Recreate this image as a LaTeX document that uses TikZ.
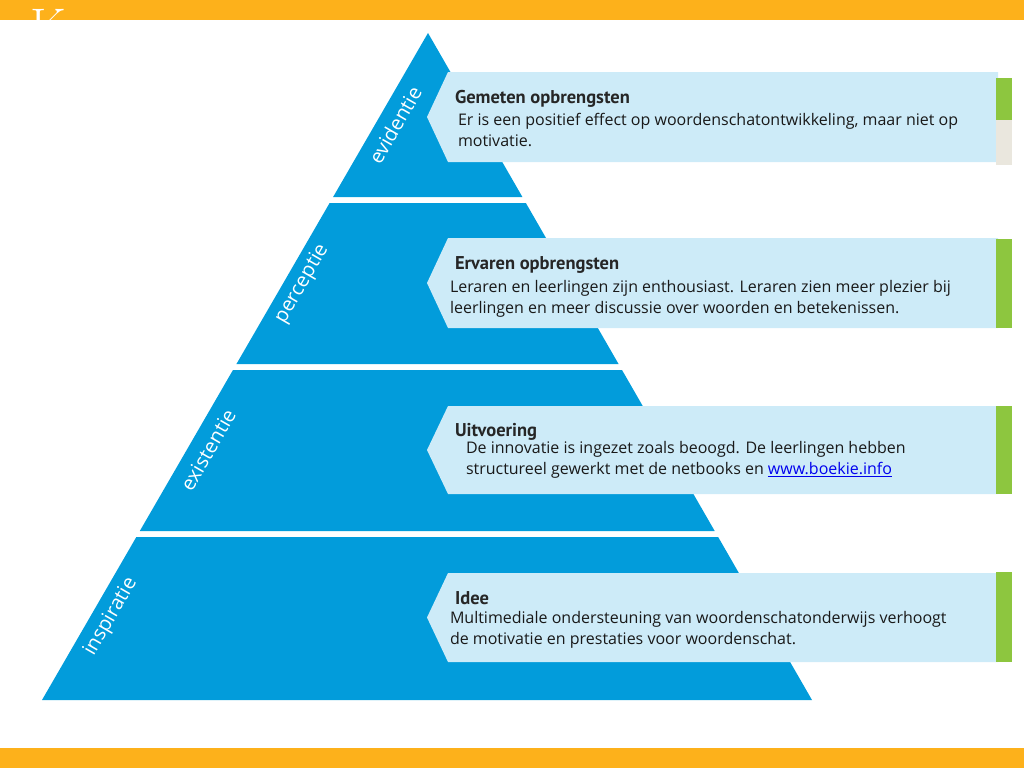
\documentclass[tikz,border=0pt]{standalone}
\usepackage{fontspec}
\setmainfont{Open Sans}
\newfontfamily\titlefont{PT Sans}
\newfontfamily\romanfont{Latin Modern Roman}
\usetikzlibrary{positioning}
\definecolor{barorange}{RGB}{253, 177, 27}
\definecolor{pyrblue}{RGB}{2, 156, 219}
\definecolor{boxblue}{RGB}{205, 235, 248}
\definecolor{markgreen}{RGB}{141, 198, 63}
\definecolor{markbeige}{RGB}{234, 231, 222}
\definecolor{linkblue}{RGB}{0, 0, 238}

\begin{document}
\begin{tikzpicture}[x=1pt, y=-1pt,
    every node/.style={inner sep=0pt, outer sep=0pt},
    layerlabel/.style={white, rotate=60, font=\fontsize{20}{20}\selectfont},
    boxtitle/.style={anchor=base west, font=\titlefont\bfseries\fontsize{18.5}{20}\selectfont, text=black!85},
    boxtext/.style={anchor=north west, align=left, font=\fontsize{16}{21}\selectfont, text=black!90}]

    \useasboundingbox (0,0) rectangle (1024,768);

    % Balken boven en onder
    \fill[barorange] (0,0) rectangle (1024,20);
    \fill[barorange] (0,748) rectangle (1024,768);
    \node[anchor=base west, white, font=\romanfont\fontsize{50}{50}\selectfont] (kop) at (30,44) {K};
    \fill[white] (0,20) rectangle (1024,60);

    % --- PIRAMIDE ---
    \coordinate (top) at (428,33);
    \foreach \ya/\yb/\naam in {33/197/laag1, 203/364/laag2, 370/531/laag3, 537/700/laag4} {
        \pgfmathsetmacro{\xla}{428-0.5787*(\ya-33)}
        \pgfmathsetmacro{\xra}{428+0.5757*(\ya-33)}
        \pgfmathsetmacro{\xlb}{428-0.5787*(\yb-33)}
        \pgfmathsetmacro{\xrb}{428+0.5757*(\yb-33)}
        \fill[pyrblue] (\xla,\ya) -- (\xra,\ya) -- (\xrb,\yb) -- (\xlb,\yb) -- cycle;
    }

    % labels langs de linkerrand
    \node[layerlabel] (evidentie) at (395,125) {evidentie};
    \node[layerlabel] (perceptie) at (302,284) {perceptie};
    \node[layerlabel] (existentie) at (208,450) {existentie};
    \node[layerlabel] (inspiratie) at (111,617) {inspiratie};

    % --- TEKSTVAKKEN ---
    \foreach \yt/\yb in {72/162, 238/328, 406/494, 573/662} {
        \pgfmathsetmacro{\ym}{(\yt+\yb)/2}
        \fill[boxblue] (448,\yt) -- (998,\yt) -- (998,\yb) -- (448,\yb) -- (427,\ym) -- cycle;
    }

    % groene markeringen
    \fill[markgreen] (996,78) rectangle (1012,120);
    \fill[markbeige] (996,120) rectangle (1012,165);
    \fill[markgreen] (996,239) rectangle (1012,328);
    \fill[markgreen] (996,406) rectangle (1012,494);
    \fill[markgreen] (996,572) rectangle (1012,662);

    % Gemeten opbrengsten
    \node[boxtitle] (gemeten) at (455,103) {Gemeten opbrengsten};
    \node[boxtext] (gemetentxt) at (458,113) {Er is een positief effect op woordenschatontwikkeling, maar niet op\\motivatie.};

    % Ervaren opbrengsten
    \node[boxtitle] (ervaren) at (455,269) {Ervaren opbrengsten};
    \node[boxtext] (ervarentxt) at (450,280) {Leraren en leerlingen zijn enthousiast. Leraren zien meer plezier bij\\leerlingen en meer discussie over woorden en betekenissen.};

    % Uitvoering
    \node[boxtitle] (uitvoering) at (455,436) {Uitvoering};
    \node[boxtext] (uitvoeringtxt) at (466,441) {De innovatie is ingezet zoals beoogd. De leerlingen hebben\\structureel gewerkt met de netbooks en \textcolor{linkblue}{\underline{www.boekie.info}}};

    % Idee
    \node[boxtitle] (idee) at (455,604) {Idee};
    \node[boxtext] (ideetxt) at (450,611) {Multimediale ondersteuning van woordenschatonderwijs verhoogt\\de motivatie en prestaties voor woordenschat.};

\end{tikzpicture}
\end{document}
